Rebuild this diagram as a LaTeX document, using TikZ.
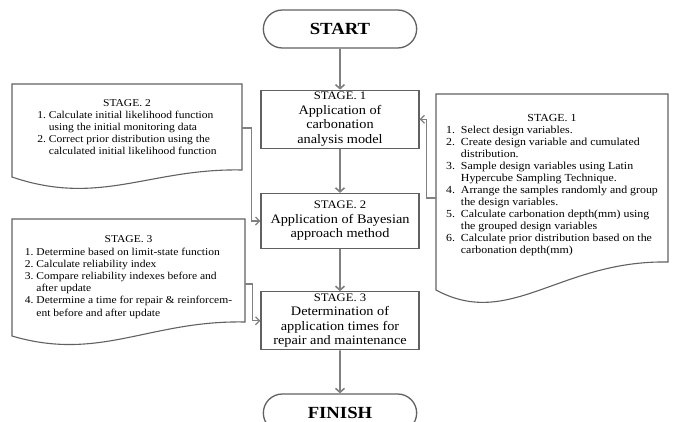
\documentclass[tikz,border=0pt]{standalone}
\usepackage{fontspec}
\setmainfont[FakeStretch=1.1]{Liberation Serif}
\usetikzlibrary{positioning,arrows.meta,shapes.misc}
\definecolor{rim}{gray}{.38}
\definecolor{flow}{gray}{.5}

\begin{document}
\begin{tikzpicture}[
    x=1pt, y=-1pt,
    font=\fontsize{10.5}{12.2}\selectfont,
    term/.style={rounded rectangle, draw=rim, line width=1.3pt,
      minimum width=160pt, minimum height=38pt,
      font=\fontsize{17}{20}\selectfont\bfseries},
    stage/.style={rectangle, draw=rim, line width=1.3pt,
      minimum width=158pt, minimum height=55pt, align=center, inner sep=2pt,
      font=\fontsize{13}{14.5}\selectfont},
    note/.style={inner sep=0pt, align=left},
    doc/.style={draw=rim, line width=1.1pt},
    flowarrow/.style={draw=flow, line width=1.6pt, -{Straight Barb[length=4pt,width=9pt]}},
    link/.style={draw=flow, line width=1.2pt, -{Straight Barb[length=4pt,width=8pt]}}
  ]
    \useasboundingbox (0,0) rectangle (674,421);
    \clip (0,0) rectangle (674,421);

    % main flow
    \node[term] (start) at (340,29) {START};
    \node[stage, below=41pt of start] (s1) {{\fontsize{11.5}{13}\selectfont STAGE. 1}\\
      Application of\\ carbonation\\ analysis model};
    \node[stage, below=44pt of s1] (s2) {{\fontsize{11.5}{13}\selectfont STAGE. 2}\\
      Application of Bayesian\\ approach method};
    \node[stage, below=42pt of s2, minimum height=57pt] (s3) {{\fontsize{11.5}{13}\selectfont STAGE. 3}\\
      Determination of\\ application times for\\ repair and maintenance};
    \node[term, below=43pt of s3] (finish) {FINISH};

    % side notes
    \node[note, minimum width=230pt] (d2) at (127,128) {\begin{tabular}{@{}l@{\ }l@{}}
      \multicolumn{2}{c}{STAGE. 2}\\
      1. & Calculate initial likelihood function\\
         & using the initial monitoring data\\
      2. & Correct prior distribution using the\\
         & calculated initial likelihood function
    \end{tabular}};
    \node[note, minimum width=233pt] (d3) at (128.5,277) {\begin{tabular}{@{}l@{\ }l@{}}
      \multicolumn{2}{c}{STAGE. 3}\\
      1. & Determine based on limit-state function\\
      2. & Calculate reliability index\\
      3. & Compare reliability indexes before and\\
         & after update\\
      4. & Determine a time for repair \& reinforcem-\\
         & ent before and after update
    \end{tabular}};
    \node[note, minimum width=232pt, font=\fontsize{10.8}{12}\selectfont] (d1) at (552,185) {\begin{tabular}{@{}l@{\hspace{0.55em}}l@{}}
      \multicolumn{2}{c}{STAGE. 1}\\
      1. & Select design variables.\\
      2. & Create design variable and cumulated\\
         & distribution.\\
      3. & Sample design variables using Latin\\
         & Hypercube Sampling Technique.\\
      4. & Arrange the samples randomly and group\\
         & the design variables.\\
      5. & Calculate carbonation depth(mm) using\\
         & the grouped design variables\\
      6. & Calculate prior distribution based on the\\
         & carbonation depth(mm)
    \end{tabular}};

    % document outlines
    \draw[doc] (12,177) -- (12,84) -- (242,84) -- (242,170)
      .. controls (150,168) and (100,207) .. (12,177) -- cycle;
    \draw[doc] (12,336) -- (12,219) -- (245,219) -- (245,322)
      .. controls (150,320) and (100,362) .. (12,336) -- cycle;
    \draw[doc] (436,290) -- (436,94) -- (668,94) -- (668,262)
      .. controls (560,260) and (510,330) .. (436,290) -- cycle;

    \draw[flowarrow] (start) -- (s1);
    \draw[flowarrow] (s1) -- (s2);
    \draw[flowarrow] (s2) -- (s3);
    \draw[flowarrow] (s3) -- (finish);

    \draw[link] (d2.east) -- ++(9,0) |- (s2.west);
    \draw[link] ([yshift=-7pt]d3.east) -- ++(7,0) |- (s3.west);
    \draw[link] ([yshift=-13pt]d1.west) -- ++(-9,0) |- (s1.east);
  \end{tikzpicture}
\end{document}
